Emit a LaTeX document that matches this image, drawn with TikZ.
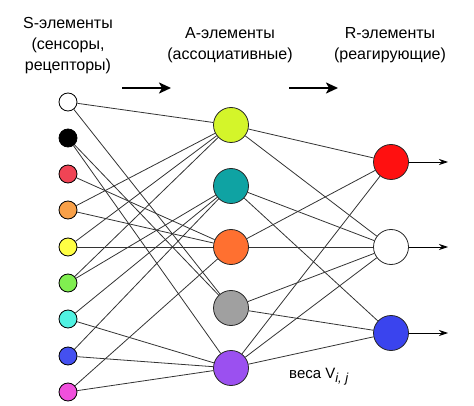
\documentclass[tikz,border=0pt]{standalone}
\usepackage{fontspec}
\setmainfont{Liberation Sans}
\usetikzlibrary{arrows.meta}
\definecolor{sRed}{HTML}{F04455}
\definecolor{sOrange}{HTML}{F8A048}
\definecolor{sYellow}{HTML}{FFFF44}
\definecolor{sGreen}{HTML}{80EE50}
\definecolor{sCyan}{HTML}{50F2E2}
\definecolor{sBlue}{HTML}{4450F0}
\definecolor{sMagenta}{HTML}{F050DC}
\definecolor{aLime}{HTML}{D4F52A}
\definecolor{aTeal}{HTML}{0FA3A3}
\definecolor{aOrange}{HTML}{FF7030}
\definecolor{aGray}{HTML}{A0A0A0}
\definecolor{aPurple}{HTML}{9B50F0}
\definecolor{rRed}{HTML}{FF1010}
\definecolor{rBlue}{HTML}{3A44EE}
\definecolor{wire}{HTML}{333333}
\begin{document}
\begin{tikzpicture}[x=1pt,y=-1pt,
  snode/.style={circle,draw=black,line width=0.8pt,minimum size=18pt,inner sep=0pt},
  bignode/.style={circle,draw=black!85,line width=0.8pt,minimum size=35pt,inner sep=0pt},
  wireline/.style={draw=wire,line width=0.8pt},
  headarrow/.style={line width=2.8pt,-{Stealth[length=12pt,width=11pt,inset=3pt]}},
  outarrow/.style={draw=black,line width=0.8pt,-{Stealth[length=9pt,width=6pt]}},
  headlabel/.style={align=center,font=\fontsize{16}{21}\selectfont,inner sep=0pt}]
\useasboundingbox (0,0) rectangle (474,406);
% labels
\node[headlabel] (ls) at (68,46) {S-элементы\\(сенсоры,\\рецепторы)};
\node[headlabel] (la) at (230,45) {A-элементы\\(ассоциативные)};
\node[headlabel] (lr) at (390,45) {R-элементы\\(реагирующие)};
\coordinate (h1a) at (122,88); \coordinate (h1b) at (171,88);
\coordinate (h2a) at (289,88); \coordinate (h2b) at (338,88);
\draw[headarrow] (h1a) -- (h1b);
\draw[headarrow] (h2a) -- (h2b);
% S nodes
\node[snode,fill=white] (s1) at (68,102) {};
\node[snode,fill=black] (s2) at (68,138) {};
\node[snode,fill=sRed] (s3) at (68,174) {};
\node[snode,fill=sOrange] (s4) at (68,210) {};
\node[snode,fill=sYellow] (s5) at (68,247) {};
\node[snode,fill=sGreen] (s6) at (68,283) {};
\node[snode,fill=sCyan] (s7) at (68,319) {};
\node[snode,fill=sBlue] (s8) at (68,356) {};
\node[snode,fill=sMagenta] (s9) at (68,392) {};
% A nodes
\node[bignode,fill=aLime] (a1) at (231,125) {};
\node[bignode,fill=aTeal] (a2) at (231,186) {};
\node[bignode,fill=aOrange] (a3) at (231,247) {};
\node[bignode,fill=aGray] (a4) at (231,308) {};
\node[bignode,fill=aPurple] (a5) at (231,368) {};
% R nodes
\node[bignode,fill=rRed] (r1) at (391,162) {};
\node[bignode,fill=white] (r2) at (391,247) {};
\node[bignode,fill=rBlue] (r3) at (391,333) {};
% S -> A
\foreach \s/\a in {s1/a1,s1/a4,s2/a4,s2/a5,s3/a3,s4/a1,s4/a3,s5/a1,s5/a3,s6/a1,s6/a2,s7/a2,s7/a5,s8/a2,s8/a5,s9/a3,s9/a5}
  \draw[wireline] (\s) -- (\a);
% A -> R
\foreach \a/\r in {a1/r1,a1/r2,a2/r2,a2/r3,a3/r1,a3/r2,a4/r2,a4/r3,a5/r1,a5/r2,a5/r3}
  \draw[wireline] (\a) -- (\r);
% outputs
\coordinate (o1) at (448,162); \coordinate (o2) at (448,247); \coordinate (o3) at (448,333);
\draw[outarrow] (r1) -- (o1);
\draw[outarrow] (r2) -- (o2);
\draw[outarrow] (r3) -- (o3);
% weights label
\node[anchor=base west,font=\fontsize{15}{18}\selectfont,inner sep=0pt] (w) at (289,378) {веса V\raisebox{-4pt}{\fontsize{13}{14}\selectfont\itshape i, j}};
\end{tikzpicture}
\end{document}
